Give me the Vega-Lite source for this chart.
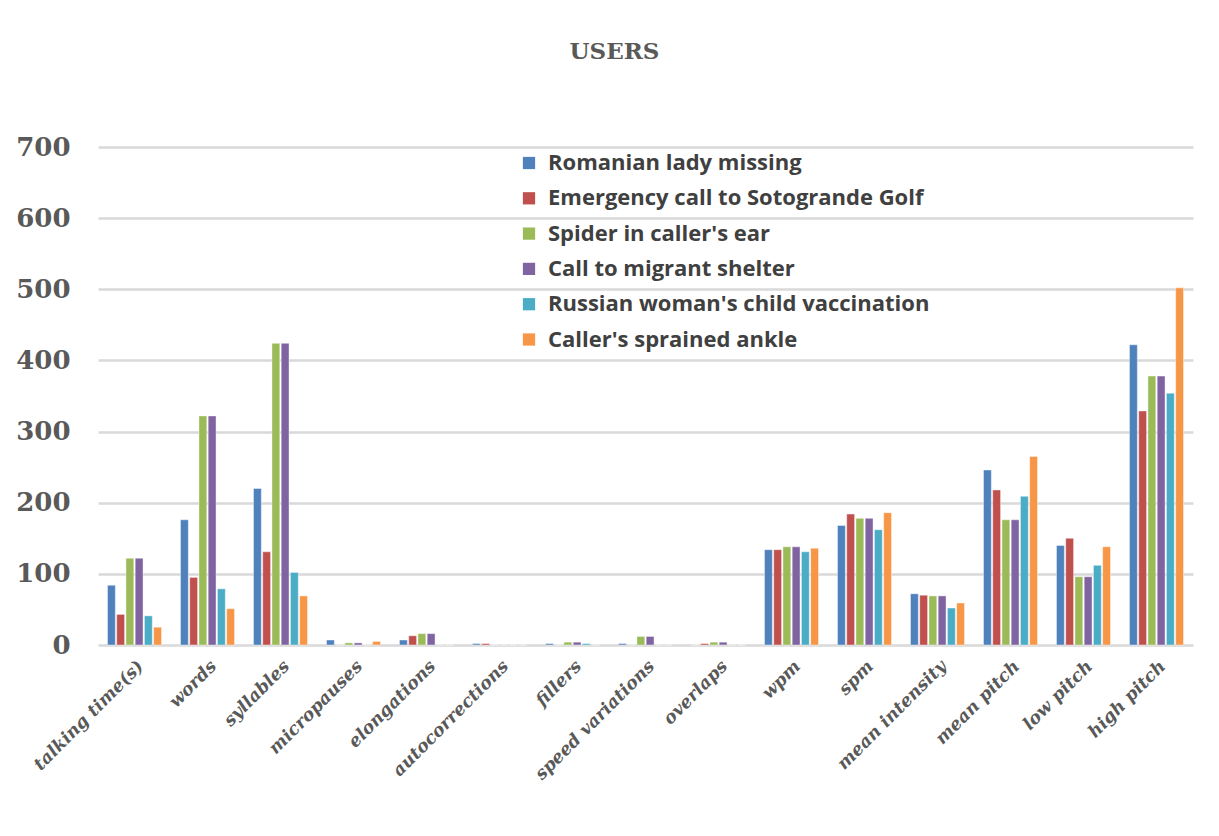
{
  "$schema": "https://vega.github.io/schema/vega-lite/v6.json",
  "width": 1095,
  "height": 498,
  "autosize": {"type": "none"},
  "padding": {"left": 98, "top": 147, "right": 26, "bottom": 191},
  "background": "white",
  "title": {
    "text": "USERS",
    "font": "DejaVu Serif",
    "fontSize": 23,
    "fontWeight": "bold",
    "color": "#595959",
    "anchor": "middle",
    "dx": -31,
    "offset": 70
  },
  "data": {
    "values": [
      {"category": "talking time(s)", "series": "Romanian lady missing", "value": 84},
      {"category": "talking time(s)", "series": "Emergency call to Sotogrande Golf", "value": 43},
      {"category": "talking time(s)", "series": "Spider in caller's ear", "value": 122},
      {"category": "talking time(s)", "series": "Call to migrant shelter", "value": 122},
      {"category": "talking time(s)", "series": "Russian woman's child vaccination", "value": 41},
      {"category": "talking time(s)", "series": "Caller's sprained ankle", "value": 25},
      {"category": "words", "series": "Romanian lady missing", "value": 176},
      {"category": "words", "series": "Emergency call to Sotogrande Golf", "value": 95},
      {"category": "words", "series": "Spider in caller's ear", "value": 322},
      {"category": "words", "series": "Call to migrant shelter", "value": 322},
      {"category": "words", "series": "Russian woman's child vaccination", "value": 79},
      {"category": "words", "series": "Caller's sprained ankle", "value": 51},
      {"category": "syllables", "series": "Romanian lady missing", "value": 220},
      {"category": "syllables", "series": "Emergency call to Sotogrande Golf", "value": 131},
      {"category": "syllables", "series": "Spider in caller's ear", "value": 424},
      {"category": "syllables", "series": "Call to migrant shelter", "value": 424},
      {"category": "syllables", "series": "Russian woman's child vaccination", "value": 102},
      {"category": "syllables", "series": "Caller's sprained ankle", "value": 69},
      {"category": "micropauses", "series": "Romanian lady missing", "value": 7},
      {"category": "micropauses", "series": "Emergency call to Sotogrande Golf", "value": 0},
      {"category": "micropauses", "series": "Spider in caller's ear", "value": 3},
      {"category": "micropauses", "series": "Call to migrant shelter", "value": 3},
      {"category": "micropauses", "series": "Russian woman's child vaccination", "value": 0},
      {"category": "micropauses", "series": "Caller's sprained ankle", "value": 5},
      {"category": "elongations", "series": "Romanian lady missing", "value": 7},
      {"category": "elongations", "series": "Emergency call to Sotogrande Golf", "value": 13},
      {"category": "elongations", "series": "Spider in caller's ear", "value": 16},
      {"category": "elongations", "series": "Call to migrant shelter", "value": 16},
      {"category": "elongations", "series": "Russian woman's child vaccination", "value": 0},
      {"category": "elongations", "series": "Caller's sprained ankle", "value": 0},
      {"category": "autocorrections", "series": "Romanian lady missing", "value": 2},
      {"category": "autocorrections", "series": "Emergency call to Sotogrande Golf", "value": 2},
      {"category": "autocorrections", "series": "Spider in caller's ear", "value": 0},
      {"category": "autocorrections", "series": "Call to migrant shelter", "value": 0},
      {"category": "autocorrections", "series": "Russian woman's child vaccination", "value": 0},
      {"category": "autocorrections", "series": "Caller's sprained ankle", "value": 0},
      {"category": "fillers", "series": "Romanian lady missing", "value": 2},
      {"category": "fillers", "series": "Emergency call to Sotogrande Golf", "value": 0},
      {"category": "fillers", "series": "Spider in caller's ear", "value": 4},
      {"category": "fillers", "series": "Call to migrant shelter", "value": 4},
      {"category": "fillers", "series": "Russian woman's child vaccination", "value": 2},
      {"category": "fillers", "series": "Caller's sprained ankle", "value": 0},
      {"category": "speed variations", "series": "Romanian lady missing", "value": 2},
      {"category": "speed variations", "series": "Emergency call to Sotogrande Golf", "value": 0},
      {"category": "speed variations", "series": "Spider in caller's ear", "value": 12},
      {"category": "speed variations", "series": "Call to migrant shelter", "value": 12},
      {"category": "speed variations", "series": "Russian woman's child vaccination", "value": 0},
      {"category": "speed variations", "series": "Caller's sprained ankle", "value": 0},
      {"category": "overlaps", "series": "Romanian lady missing", "value": 0},
      {"category": "overlaps", "series": "Emergency call to Sotogrande Golf", "value": 2},
      {"category": "overlaps", "series": "Spider in caller's ear", "value": 4},
      {"category": "overlaps", "series": "Call to migrant shelter", "value": 4},
      {"category": "overlaps", "series": "Russian woman's child vaccination", "value": 0},
      {"category": "overlaps", "series": "Caller's sprained ankle", "value": 0},
      {"category": "wpm", "series": "Romanian lady missing", "value": 134},
      {"category": "wpm", "series": "Emergency call to Sotogrande Golf", "value": 134},
      {"category": "wpm", "series": "Spider in caller's ear", "value": 138},
      {"category": "wpm", "series": "Call to migrant shelter", "value": 138},
      {"category": "wpm", "series": "Russian woman's child vaccination", "value": 131},
      {"category": "wpm", "series": "Caller's sprained ankle", "value": 136},
      {"category": "spm", "series": "Romanian lady missing", "value": 168},
      {"category": "spm", "series": "Emergency call to Sotogrande Golf", "value": 184},
      {"category": "spm", "series": "Spider in caller's ear", "value": 178},
      {"category": "spm", "series": "Call to migrant shelter", "value": 178},
      {"category": "spm", "series": "Russian woman's child vaccination", "value": 162},
      {"category": "spm", "series": "Caller's sprained ankle", "value": 186},
      {"category": "mean intensity", "series": "Romanian lady missing", "value": 72},
      {"category": "mean intensity", "series": "Emergency call to Sotogrande Golf", "value": 70},
      {"category": "mean intensity", "series": "Spider in caller's ear", "value": 69},
      {"category": "mean intensity", "series": "Call to migrant shelter", "value": 69},
      {"category": "mean intensity", "series": "Russian woman's child vaccination", "value": 52},
      {"category": "mean intensity", "series": "Caller's sprained ankle", "value": 59},
      {"category": "mean pitch", "series": "Romanian lady missing", "value": 246},
      {"category": "mean pitch", "series": "Emergency call to Sotogrande Golf", "value": 218},
      {"category": "mean pitch", "series": "Spider in caller's ear", "value": 176},
      {"category": "mean pitch", "series": "Call to migrant shelter", "value": 176},
      {"category": "mean pitch", "series": "Russian woman's child vaccination", "value": 209},
      {"category": "mean pitch", "series": "Caller's sprained ankle", "value": 265},
      {"category": "low pitch", "series": "Romanian lady missing", "value": 140},
      {"category": "low pitch", "series": "Emergency call to Sotogrande Golf", "value": 150},
      {"category": "low pitch", "series": "Spider in caller's ear", "value": 96},
      {"category": "low pitch", "series": "Call to migrant shelter", "value": 96},
      {"category": "low pitch", "series": "Russian woman's child vaccination", "value": 112},
      {"category": "low pitch", "series": "Caller's sprained ankle", "value": 138},
      {"category": "high pitch", "series": "Romanian lady missing", "value": 422},
      {"category": "high pitch", "series": "Emergency call to Sotogrande Golf", "value": 329},
      {"category": "high pitch", "series": "Spider in caller's ear", "value": 378},
      {"category": "high pitch", "series": "Call to migrant shelter", "value": 378},
      {"category": "high pitch", "series": "Russian woman's child vaccination", "value": 354},
      {"category": "high pitch", "series": "Caller's sprained ankle", "value": 502}
    ]
  },
  "mark": {"type": "bar", "stroke": "white", "strokeWidth": 0.6, "strokeOpacity": 0.7},
  "encoding": {
    "x": {
      "field": "category",
      "type": "nominal",
      "sort": null,
      "scale": {"paddingInner": 0.26, "paddingOuter": 0.13},
      "axis": {
        "title": null,
        "domain": false,
        "ticks": false,
        "labelAngle": -45,
        "labelAlign": "right",
        "labelBaseline": "top",
        "labelFont": "DejaVu Serif",
        "labelFontSize": 17.5,
        "labelFontWeight": "bold",
        "labelFontStyle": "italic",
        "labelColor": "#595959",
        "labelPadding": 12,
        "labelOverlap": false
      }
    },
    "xOffset": {
      "field": "series",
      "type": "nominal",
      "sort": null,
      "scale": {"paddingInner": 0.15}
    },
    "y": {
      "field": "value",
      "type": "quantitative",
      "scale": {"domain": [0, 700]},
      "axis": {
        "title": null,
        "values": [0, 100, 200, 300, 400, 500, 600, 700],
        "domain": false,
        "ticks": false,
        "grid": true,
        "gridColor": "#d9d9d9",
        "gridWidth": 2.5,
        "labelFont": "DejaVu Serif",
        "labelFontSize": 26,
        "labelFontWeight": "bold",
        "labelColor": "#595959",
        "labelPadding": 28
      }
    },
    "color": {
      "field": "series",
      "type": "nominal",
      "sort": null,
      "scale": {
        "domain": ["Romanian lady missing", "Emergency call to Sotogrande Golf", "Spider in caller's ear", "Call to migrant shelter", "Russian woman's child vaccination", "Caller's sprained ankle"],
        "range": ["#4F81BD", "#C0504D", "#9BBB59", "#8064A2", "#4BACC6", "#F79646"]
      },
      "legend": {
        "title": null,
        "orient": "none",
        "legendX": 420,
        "legendY": 5,
        "symbolType": "square",
        "symbolSize": 150,
        "symbolStrokeWidth": 0,
        "labelFont": "Open Sans",
        "labelFontSize": 22,
        "labelFontWeight": "bold",
        "labelColor": "#404040",
        "labelOffset": 8,
        "rowPadding": 13.3,
        "labelLimit": 600
      }
    }
  },
  "config": {
    "view": {"stroke": null}
  }
}
